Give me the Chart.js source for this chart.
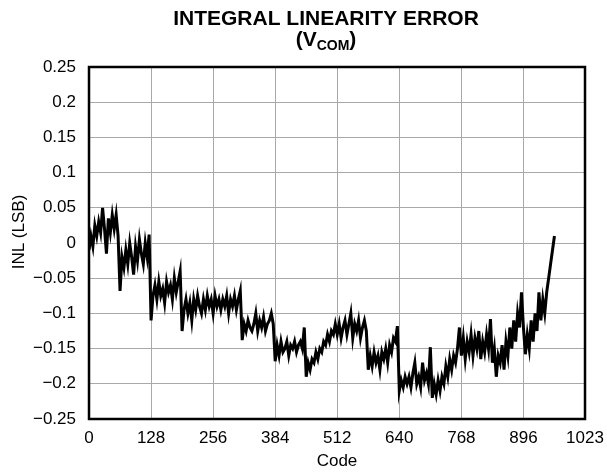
<!DOCTYPE html>
<html>
<head>
<meta charset="utf-8">
<script src="https://cdn.jsdelivr.net/npm/chart.js@4.4.1/dist/chart.umd.min.js"></script>
<style>
    html, body { margin: 0; padding: 0; background: #fff; }
</style>
</head>
<body>
<canvas id="inlChart" width="607" height="475"></canvas>
<script>
// sample codes (every 4th code) and the INL, in LSB
const codes = [
    0, 4, 8, 12, 16, 20, 24, 28, 32, 36, 40, 44, 48, 52, 56, 60,
    64, 68, 72, 76, 80, 84, 88, 92, 96, 100, 104, 108, 112, 116, 120, 124,
    128, 132, 136, 140, 144, 148, 152, 156, 160, 164, 168, 172, 176, 180, 184, 188,
    192, 196, 200, 204, 208, 212, 216, 220, 224, 228, 232, 236, 240, 244, 248, 252,
    256, 260, 264, 268, 272, 276, 280, 284, 288, 292, 296, 300, 304, 308, 312, 316,
    320, 324, 328, 332, 336, 340, 344, 348, 352, 356, 360, 364, 368, 372, 376, 380,
    384, 388, 392, 396, 400, 404, 408, 412, 416, 420, 424, 428, 432, 436, 440, 444,
    448, 452, 456, 460, 464, 468, 472, 476, 480, 484, 488, 492, 496, 500, 504, 508,
    512, 516, 520, 524, 528, 532, 536, 540, 544, 548, 552, 556, 560, 564, 568, 572,
    576, 580, 584, 588, 592, 596, 600, 604, 608, 612, 616, 620, 624, 628, 632, 636,
    640, 644, 648, 652, 656, 660, 664, 668, 672, 676, 680, 684, 688, 692, 696, 700,
    704, 708, 712, 716, 720, 724, 728, 732, 736, 740, 744, 748, 752, 756, 760, 764,
    768, 772, 776, 780, 784, 788, 792, 796, 800, 804, 808, 812, 816, 820, 824, 828,
    832, 836, 840, 844, 848, 852, 856, 860, 864, 868, 872, 876, 880, 884, 888, 892,
    896, 900, 904, 908, 912, 916, 920, 924, 928, 932, 936, 940, 944, 948, 952, 956, 960
];

const inlValues = [
    -0.01, 0.01, -0.005, 0.025, 0.01, 0.03, 0.015, 0.05, 0.02, -0.015, 0.035, 0.015, 0.04, 0.02, 0.04, 0.01,
    -0.068, -0.02, -0.035, -0.01, -0.03, 0.0, -0.02, -0.045, -0.005, -0.025, 0.005, -0.015, -0.03, 0.0, -0.02, 0.012,
    -0.11, -0.075, -0.06, -0.08, -0.055, -0.075, -0.065, -0.085, -0.055, -0.07, -0.06, -0.08, -0.05, -0.07, -0.055, -0.04,
    -0.125, -0.095, -0.08, -0.1, -0.085, -0.11, -0.08, -0.095, -0.075, -0.09, -0.1, -0.08, -0.095, -0.075, -0.09, -0.08,
    -0.1, -0.075, -0.09, -0.08, -0.095, -0.08, -0.09, -0.075, -0.1, -0.08, -0.09, -0.075, -0.095, -0.08, -0.068, -0.138,
    -0.115, -0.125, -0.11, -0.12, -0.125, -0.115, -0.1, -0.125, -0.11, -0.12, -0.105, -0.125, -0.115, -0.11, -0.1, -0.115,
    -0.168, -0.145, -0.16, -0.14, -0.155, -0.15, -0.14, -0.16, -0.145, -0.15, -0.14, -0.155, -0.145, -0.14, -0.15, -0.12,
    -0.19, -0.17, -0.18, -0.165, -0.17, -0.155, -0.165, -0.15, -0.155, -0.14, -0.145, -0.13, -0.14, -0.125, -0.13, -0.115,
    -0.13, -0.115, -0.135, -0.12, -0.11, -0.13, -0.115, -0.1, -0.135, -0.115, -0.125, -0.11, -0.135, -0.12, -0.11, -0.125,
    -0.18, -0.16, -0.175, -0.155, -0.17, -0.16, -0.18, -0.155, -0.165, -0.15, -0.17, -0.145, -0.155, -0.135, -0.14, -0.118,
    -0.21, -0.195, -0.205, -0.19, -0.2, -0.19, -0.205, -0.185, -0.17, -0.2, -0.19, -0.205, -0.17, -0.195, -0.185, -0.2,
    -0.148, -0.22, -0.2, -0.215, -0.195, -0.21, -0.19, -0.2, -0.175, -0.19, -0.165, -0.18, -0.16, -0.17, -0.15, -0.12,
    -0.16, -0.135, -0.165, -0.14, -0.155, -0.13, -0.16, -0.135, -0.15, -0.125, -0.165, -0.14, -0.155, -0.13, -0.15, -0.108,
    -0.17, -0.15, -0.19, -0.16, -0.17, -0.145, -0.18, -0.14, -0.16, -0.12, -0.15, -0.11, -0.14, -0.1, -0.12, -0.07,
    -0.12, -0.158, -0.13, -0.15, -0.11, -0.14, -0.1, -0.125, -0.07, -0.11, -0.08, -0.1, -0.07, -0.05, -0.03, -0.01, 0.01
];

const xTickLabels = [0, 128, 256, 384, 512, 640, 768, 896, 1023];

const FONT = "'Liberation Sans', Arial, sans-serif";
const GRID = "#a8a8a8";

function fmtTick(value) {
    const s = String(Number(value.toFixed(2)));
    return s.replace("-", "\u2212");
}

// title with the subscript, axis titles and the heavy frame
const textPlugin = {
    id: "inlText",
    afterDraw(chart) {
        const ctx = chart.ctx;
        const area = chart.chartArea;
        ctx.save();

        ctx.strokeStyle = "#000";
        ctx.lineWidth = 2.5;
        ctx.strokeRect(area.left, area.top, area.right - area.left, area.bottom - area.top);

        ctx.fillStyle = "#000";
        ctx.textBaseline = "alphabetic";
        ctx.textAlign = "center";
        const cx = 326;
        ctx.font = "bold 21px " + FONT;
        ctx.fillText("INTEGRAL LINEARITY ERROR", cx, 25);

        const big = "bold 21px " + FONT;
        const small = "bold 14px " + FONT;
        ctx.font = big;
        const wOpen = ctx.measureText("(V").width;
        const wClose = ctx.measureText(")").width;
        ctx.font = small;
        const wSub = ctx.measureText("COM").width;
        let x = cx - (wOpen + wSub + wClose) / 2;
        ctx.textAlign = "left";
        ctx.font = big;
        ctx.fillText("(V", x, 46);
        x += wOpen;
        ctx.font = small;
        ctx.fillText("COM", x, 50);
        x += wSub;
        ctx.font = big;
        ctx.fillText(")", x, 46);

        ctx.textAlign = "center";
        ctx.textBaseline = "middle";
        ctx.font = "17px " + FONT;
        ctx.fillText("Code", (area.left + area.right) / 2, 461);

        ctx.translate(19, 232);
        ctx.rotate(-Math.PI / 2);
        ctx.fillText("INL (LSB)", 0, 0);
        ctx.restore();
    }
};

const points = codes.map((c, i) => ({ x: c, y: inlValues[i] }));

new Chart(document.getElementById("inlChart"), {
    type: "line",
    data: {
        datasets: [
            {
                data: points,
                borderColor: "#000",
                borderWidth: 3,
                pointRadius: 0,
                tension: 0,
                fill: false,
            },
        ],
    },
    options: {
        responsive: false,
        animation: false,
        layout: { padding: { top: 67, right: 22, left: 0, bottom: 0 } },
        plugins: {
            legend: { display: false },
            tooltip: { enabled: false },
        },
        scales: {
            x: {
                type: "linear",
                min: 0,
                max: 1023,
                afterBuildTicks: (scale) => {
                    scale.ticks = xTickLabels.map((v) => ({ value: v }));
                },
                afterFit: (scale) => {
                    scale.height = 56;
                    scale.paddingLeft = 0;
                    scale.paddingRight = 0;
                },
                ticks: {
                    color: "#000",
                    font: { family: FONT, size: 17 },
                    padding: 9,
                    maxRotation: 0,
                    autoSkip: false,
                    callback: (v) => String(v),
                },
                grid: { color: GRID, lineWidth: 1, drawTicks: false },
                border: { display: false },
            },
            y: {
                min: -0.25,
                max: 0.25,
                afterFit: (scale) => {
                    scale.width = 89;
                },
                ticks: {
                    stepSize: 0.05,
                    color: "#000",
                    font: { family: FONT, size: 17 },
                    padding: 13,
                    callback: (v) => fmtTick(v),
                },
                grid: { color: GRID, lineWidth: 1, drawTicks: false },
                border: { display: false },
            },
        },
    },
    plugins: [textPlugin],
});
</script>
</body>
</html>
